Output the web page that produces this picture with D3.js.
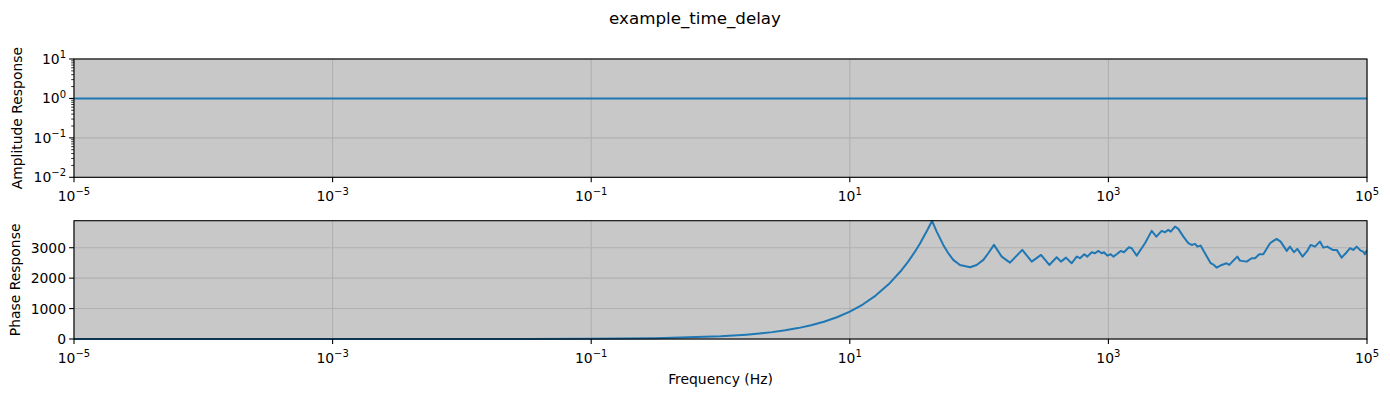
<!DOCTYPE html>
<html>
<head>
<meta charset="utf-8">
<script src="https://cdn.jsdelivr.net/npm/d3@7"></script>
<style>
  body { margin: 0; background: #fff; }
  text { font-family: "DejaVu Sans", sans-serif; fill: #000; }
</style>
</head>
<body>
<svg id="chart" width="1390" height="397"></svg>
<script>
// amplitude response (flat)
const ampFreq = [1e-5, 1e5]
const ampValue = [1, 1]

// phase response (log10 of frequency, phase)
const phaseLogFreq = [
  -5, -4, -3, -2, -1.5, -1, -0.5, 0, 0.1, 0.2, 0.3, 0.4, 0.5, 0.6, 0.7, 0.8, 0.9, 1, 1.1, 1.2, 1.3, 1.4,
  1.45, 1.5, 1.543, 1.6, 1.636,
  1.672, 1.723, 1.762, 1.800, 1.852, 1.930, 1.981, 2.033, 2.071, 2.115, 2.175, 2.239, 2.334, 2.407,
  2.479, 2.543, 2.600, 2.633, 2.672, 2.716, 2.755, 2.780, 2.814, 2.837, 2.871, 2.896, 2.922, 2.948,
  2.966, 2.991, 3.018, 3.038, 3.064, 3.095, 3.120, 3.159, 3.180, 3.219, 3.283, 3.335, 3.371, 3.412,
  3.438, 3.463, 3.482, 3.515, 3.541, 3.580, 3.618, 3.644, 3.670, 3.688, 3.713, 3.747, 3.791, 3.816,
  3.837, 3.876, 3.914, 3.935, 3.966, 3.997, 4.018, 4.069, 4.108, 4.134, 4.167, 4.198, 4.250, 4.276,
  4.301, 4.332, 4.379, 4.404, 4.435, 4.461, 4.502, 4.538, 4.564, 4.598, 4.636, 4.662, 4.693, 4.735,
  4.766, 4.804, 4.843, 4.869, 4.894, 4.920, 4.951, 4.971, 4.984, 5.0
]
const phaseValue = [
  0, 0, 0.1, 0.9, 3, 9, 28, 90, 113, 143, 180, 226, 285, 358, 451, 568, 715, 900, 1133, 1426, 1796, 2261,
  2536, 2846, 3141, 3582, 3880,
  3530, 3092, 2819, 2599, 2434, 2359, 2434, 2599, 2819, 3092, 2707, 2510, 2928, 2543,
  2763, 2434, 2688, 2543, 2674, 2490, 2707, 2655, 2786, 2707, 2852, 2819, 2895, 2819,
  2852, 2740, 2786, 2707, 2786, 2895, 2852, 3016, 2984, 2740, 3148, 3553, 3365, 3553,
  3510, 3586, 3530, 3694, 3618, 3365, 3148, 3092, 3125, 3036, 3069, 2819, 2490, 2434,
  2345, 2434, 2490, 2434, 2576, 2707, 2576, 2543, 2655, 2655, 2786, 2786, 3148, 3224,
  3289, 3201, 2895, 3036, 2852, 2961, 2707, 2895, 3092, 3036, 3201, 3003, 3036, 2928,
  2928, 2674, 2852, 2984, 2928, 3036, 2904, 2871, 2786, 2928
]

const xTickExp = [-5, -3, -1, 1, 3, 5]
const ampTickExp = [-2, -1, 0, 1]
const phaseTicks = [0, 1000, 2000, 3000]

const svg = d3.select('#chart')
const left = 74, right = 1367
const lineColor = '#1f77b4'
const bg = '#c8c8c8'
const gridColor = '#b0b0b0'
const fs = 13.9

const x = d3.scaleLog().domain([1e-5, 1e5]).range([left, right])

function sup(sel, base, exp, size) {
  sel.append('tspan').text(base)
  sel.append('tspan').attr('dy', -size * 0.42).attr('font-size', size * 0.72).text(exp)
}

function drawPanel(top, bottom, y, yTicks) {
  const g = svg.append('g')
  g.append('rect')
    .attr('x', left).attr('y', top)
    .attr('width', right - left).attr('height', bottom - top)
    .attr('fill', bg)

  // grid
  xTickExp.forEach(e => {
    g.append('line')
      .attr('x1', x(Math.pow(10, e))).attr('x2', x(Math.pow(10, e)))
      .attr('y1', top).attr('y2', bottom)
      .attr('stroke', gridColor).attr('stroke-width', 1.1)
  })
  yTicks.forEach(t => {
    g.append('line')
      .attr('x1', left).attr('x2', right)
      .attr('y1', y(t)).attr('y2', y(t))
      .attr('stroke', gridColor).attr('stroke-width', 1.1)
  })
  return g
}

function drawFrame(g, top, bottom, y, yTicks, yTickLabel, minorTicks) {
  g.append('rect')
    .attr('x', left).attr('y', top)
    .attr('width', right - left).attr('height', bottom - top)
    .attr('fill', 'none').attr('stroke', '#000').attr('stroke-width', 1.1)

  // x ticks
  xTickExp.forEach(e => {
    const px = x(Math.pow(10, e))
    g.append('line')
      .attr('x1', px).attr('x2', px).attr('y1', bottom).attr('y2', bottom + 4.9)
      .attr('stroke', '#000').attr('stroke-width', 1.1)
    const t = g.append('text')
      .attr('x', px).attr('y', bottom + 24)
      .attr('text-anchor', 'middle').attr('font-size', fs)
    sup(t, '10', (e < 0 ? '\u2212' : '') + Math.abs(e), fs)
  })

  // y ticks
  yTicks.forEach(v => {
    const py = y(v)
    g.append('line')
      .attr('x1', left - 4.9).attr('x2', left).attr('y1', py).attr('y2', py)
      .attr('stroke', '#000').attr('stroke-width', 1.1)
    yTickLabel(g, v, py)
  })
  minorTicks.forEach(v => {
    const py = y(v)
    g.append('line')
      .attr('x1', left - 2.8).attr('x2', left).attr('y1', py).attr('y2', py)
      .attr('stroke', '#000').attr('stroke-width', 0.8)
  })
}

// ---- top panel: amplitude
const topA = 59, botA = 177.3
const yA = d3.scaleLog().domain([1e-2, 1e1]).range([botA, topA])
const gA = drawPanel(topA, botA, yA, ampTickExp.map(e => Math.pow(10, e)))
gA.append('path')
  .datum(ampFreq.map((f, i) => [f, ampValue[i]]))
  .attr('d', d3.line().x(d => x(d[0])).y(d => yA(d[1])))
  .attr('fill', 'none').attr('stroke', lineColor).attr('stroke-width', 2)

const minorA = []
for (let e = -2; e < 1; e++) for (let m = 2; m < 10; m++) minorA.push(m * Math.pow(10, e))
drawFrame(gA, topA, botA, yA, ampTickExp.map(e => Math.pow(10, e)), (g, v, py) => {
  const e = Math.round(Math.log10(v))
  const t = g.append('text')
    .attr('x', left - 8).attr('y', py + 5)
    .attr('text-anchor', 'end').attr('font-size', fs)
  sup(t, '10', (e < 0 ? '\u2212' : '') + Math.abs(e), fs)
}, minorA)

svg.append('text')
  .attr('transform', `translate(22,${(topA + botA) / 2}) rotate(-90)`)
  .attr('text-anchor', 'middle').attr('font-size', fs)
  .text('Amplitude Response')

// ---- bottom panel: phase
const topP = 220.7, botP = 339
const yP = d3.scaleLinear().domain([0, 3888]).range([botP, topP])
const gP = drawPanel(topP, botP, yP, phaseTicks)

const clip = svg.append('clipPath').attr('id', 'clipP')
clip.append('rect').attr('x', left).attr('y', topP - 1).attr('width', right - left).attr('height', botP - topP + 2)

gP.append('path')
  .datum(phaseLogFreq.map((lf, i) => [Math.pow(10, lf), phaseValue[i]]))
  .attr('clip-path', 'url(#clipP)')
  .attr('d', d3.line().x(d => x(d[0])).y(d => yP(d[1])))
  .attr('fill', 'none').attr('stroke', lineColor).attr('stroke-width', 2)
  .attr('stroke-linejoin', 'round')

drawFrame(gP, topP, botP, yP, phaseTicks, (g, v, py) => {
  g.append('text')
    .attr('x', left - 8).attr('y', py + 5)
    .attr('text-anchor', 'end').attr('font-size', fs)
    .text(v)
}, [])

svg.append('text')
  .attr('transform', `translate(20,${(topP + botP) / 2}) rotate(-90)`)
  .attr('text-anchor', 'middle').attr('font-size', fs)
  .text('Phase Response')

svg.append('text')
  .attr('x', (left + right) / 2).attr('y', 384)
  .attr('text-anchor', 'middle').attr('font-size', fs)
  .text('Frequency (Hz)')

// title
svg.append('text')
  .attr('x', 695).attr('y', 24)
  .attr('text-anchor', 'middle').attr('font-size', 16.7)
  .text('example_time_delay')
</script>
</body>
</html>
